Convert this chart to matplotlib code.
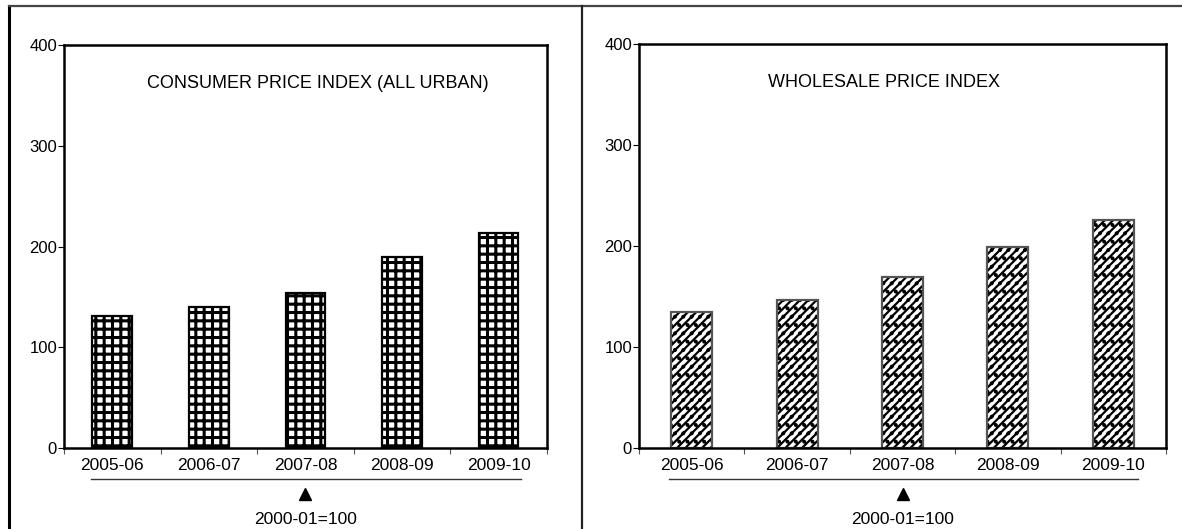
import matplotlib.pyplot as plt
import matplotlib.transforms as mtransforms
from matplotlib.lines import Line2D

years = ['2005-06', '2006-07', '2007-08', '2008-09', '2009-10']
cpi = [131, 140, 154, 190, 213]
wpi = [135, 147, 169, 199, 226]
yticks = [0, 100, 200, 300, 400]

plt.rcParams['font.family'] = ['Liberation Sans', 'DejaVu Sans']

fig = plt.figure(figsize=(11.82, 5.29), dpi=100)

# outer frame lines
fig.add_artist(Line2D([0.0076, 0.0076], [0, 0.989], color='black', lw=2.2, transform=fig.transFigure))
fig.add_artist(Line2D([0.0076, 1], [0.989, 0.989], color='#444444', lw=1.6, transform=fig.transFigure))
fig.add_artist(Line2D([0.4924, 0.4924], [0, 0.989], color='#222222', lw=1.6, transform=fig.transFigure))


def panel(rect, vals, title, tx, hatch, hlw, width, edge):
    ax = fig.add_axes(rect)
    x = range(len(years))
    with plt.rc_context({'hatch.linewidth': hlw}):
        bars = ax.bar(x, vals, width=width, color='white', edgecolor='black', hatch=hatch, linewidth=0)
        for b in bars:
            if hasattr(b, 'set_hatch_linewidth'):
                b.set_hatch_linewidth(hlw)
    ax.bar(x, vals, width=width, color='none', edgecolor=edge, linewidth=1.6)
    ax.set_xlim(-0.5, 4.5)
    ax.set_ylim(0, 400)
    ax.set_yticks(yticks)
    ax.set_xticks(list(x))
    ax.set_xticklabels(years, fontsize=12.5)
    ax.set_xticks([i - 0.5 for i in range(6)], minor=True)
    ax.tick_params(axis='x', which='major', length=0, pad=7)
    ax.tick_params(axis='x', which='minor', length=4, direction='out', width=0.8, color='#555555')
    ax.tick_params(axis='y', length=4, width=0.8, labelsize=12, pad=1)
    for s in ax.spines.values():
        s.set_linewidth(1.8)
    ax.text(tx, 0.905, title, transform=ax.transAxes, ha='center', va='center', fontsize=13)
    trans = mtransforms.blended_transform_factory(ax.transData, ax.transAxes)
    ax.plot([-0.22, 4.23], [-0.077, -0.077], color='#333333', lw=1, transform=trans, clip_on=False)
    ax.plot([2], [-0.115], marker='^', color='black', markersize=9, transform=trans, clip_on=False)
    ax.text(2, -0.177, '2000-01=100', transform=trans, ha='center', va='center', fontsize=12.5)
    return ax


panel([0.0541, 0.1531, 0.4086, 0.7618], cpi, 'CONSUMER PRICE INDEX (ALL URBAN)', 0.526, '++', 2.2, 0.41, 'black')
panel([0.5406, 0.1531, 0.4459, 0.7637], wpi, 'WHOLESALE PRICE INDEX', 0.465, '////..', 1.6, 0.39, '#555555')

fig.savefig('out.png', dpi=100)
